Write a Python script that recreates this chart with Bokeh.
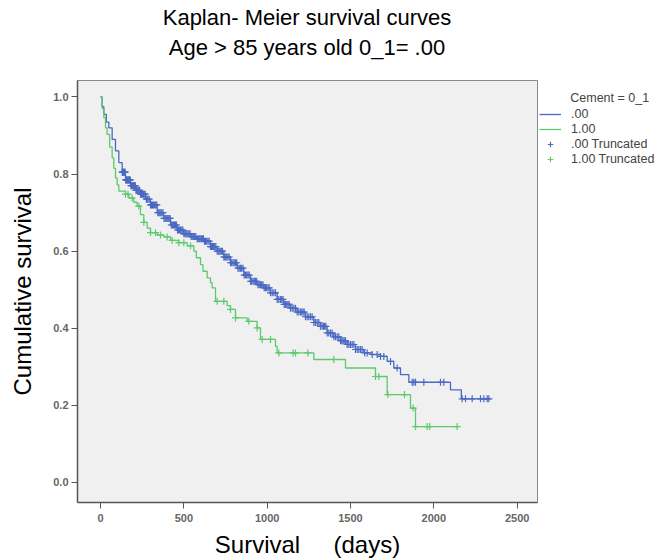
import numpy as np
from bokeh.plotting import figure
from bokeh.layouts import column, row
from bokeh.models import Range1d, Legend, LegendItem, PrintfTickFormatter, Div
from bokeh.embed import file_html
from bokeh.resources import INLINE

# ---------------- data ----------------
title_line1 = "Kaplan- Meier survival curves"
title_line2 = "Age &gt; 85 years old 0_1= .00"
x_axis_label = "Survival\u00a0\u00a0\u00a0\u00a0\u00a0(days)"
y_axis_label = "Cumulative survival"
legend_title = "Cement = 0_1"
group_labels = [".00", "1.00"]
censor_labels = [".00 Truncated", "1.00 Truncated"]

x_ticks = [0, 500, 1000, 1500, 2000, 2500]
y_ticks = [0.0, 0.2, 0.4, 0.6, 0.8, 1.0]

# group .00 (blue): event times (days) and survival after each step
blue_times = [0, 10, 20, 35, 50, 70, 90, 110, 130, 150, 180, 210, 240, 270, 300,
              340, 380, 420, 460, 500, 540, 580, 620, 660, 700, 740, 780, 820,
              860, 900, 940, 980, 1020, 1060, 1100, 1140, 1180, 1230, 1280, 1320,
              1360, 1400, 1440, 1480, 1530, 1580, 1630, 1680, 1720, 1760, 1800,
              1850, 2100, 2165, 2330]
blue_surv = [1.0, 0.975, 0.955, 0.935, 0.92, 0.89, 0.86, 0.83, 0.805, 0.785, 0.77,
             0.758, 0.748, 0.735, 0.72, 0.70, 0.685, 0.668, 0.655, 0.645, 0.638,
             0.632, 0.626, 0.612, 0.60, 0.585, 0.57, 0.556, 0.538, 0.522, 0.513,
             0.505, 0.492, 0.475, 0.462, 0.452, 0.442, 0.43, 0.415, 0.405, 0.388,
             0.378, 0.368, 0.358, 0.345, 0.336, 0.332, 0.327, 0.314, 0.297, 0.28,
             0.26, 0.24, 0.217, 0.217]

# group 1.00 (green)
green_times = [0, 10, 20, 30, 40, 55, 70, 80, 90, 100, 110, 150, 170, 200, 220,
               240, 260, 280, 300, 340, 380, 420, 470, 520, 560, 575, 600, 615,
               640, 660, 670, 690, 760, 780, 810, 880, 940, 960, 1050, 1060, 1280,
               1470, 1650, 1720, 1860, 1890, 2140]
green_surv = [1.0, 0.97, 0.946, 0.92, 0.903, 0.87, 0.842, 0.815, 0.79, 0.772, 0.756,
              0.748, 0.738, 0.727, 0.717, 0.695, 0.675, 0.66, 0.648, 0.642, 0.637,
              0.628, 0.622, 0.614, 0.60, 0.583, 0.565, 0.548, 0.531, 0.518, 0.505,
              0.47, 0.459, 0.449, 0.427, 0.418, 0.401, 0.371, 0.353, 0.336, 0.319,
              0.297, 0.275, 0.228, 0.193, 0.145, 0.145]

# censoring times ("Truncated")
blue_censor = [130, 133, 136, 139, 142, 145, 148, 151, 155, 158, 161, 165, 168, 171,
               175, 179, 183, 186, 190, 194, 198, 201, 205, 209, 213, 216, 220, 225,
               230, 235, 240, 246, 252, 257, 262, 268, 275, 280, 285, 292, 300, 306,
               312, 318, 325, 331, 338, 344, 350, 356, 362, 368, 375, 381, 388, 394,
               400, 406, 412, 418, 425, 431, 438, 444, 450, 456, 462, 468, 475, 481,
               488, 494, 500, 506, 512, 518, 525, 531, 538, 544, 550, 557, 565, 572,
               580, 586, 592, 598, 605, 611, 618, 624, 630, 637, 645, 652, 660, 666,
               672, 678, 685, 692, 700, 706, 712, 718, 725, 732, 740, 746, 752, 758,
               765, 772, 780, 787, 795, 802, 810, 817, 825, 832, 840, 847, 855, 862,
               870, 877, 885, 892, 900, 907, 915, 922, 930, 937, 945, 952, 960, 967,
               975, 982, 990, 997, 1005, 1012, 1020, 1030, 1040, 1050, 1060, 1070,
               1080, 1088, 1095, 1102, 1110, 1118, 1125, 1132, 1140, 1150, 1160, 1170,
               1180, 1190, 1200, 1208, 1215, 1222, 1230, 1240, 1250, 1260, 1270, 1280,
               1290, 1300, 1310, 1320, 1330, 1338, 1345, 1352, 1360, 1370, 1380, 1390,
               1400, 1410, 1420, 1430, 1440, 1448, 1455, 1462, 1470, 1480, 1490, 1500,
               1510, 1520, 1530, 1540, 1550, 1560, 1570, 1585, 1600, 1630, 1660, 1680,
               1700, 1740, 1780, 1870, 1880, 1890, 1940, 2040, 2060, 2170, 2190, 2230,
               2280, 2300, 2320, 2330]
green_censor = [150, 165, 190, 230, 260, 300, 330, 360, 400, 430, 470, 500, 540, 700,
                740, 780, 810, 890, 940, 970, 1020, 1070, 1156, 1170, 1244, 1400, 1650,
                1670, 1724, 1824, 1876, 1890, 1960, 1975, 2140]

# ---------------- styling ----------------
BLUE = "#4a69c4"
GREEN = "#5cc96c"
FONT = "Liberation Sans"


def step_lookup(times, surv, t):
    times = np.asarray(times, dtype=float)
    surv = np.asarray(surv, dtype=float)
    idx = np.searchsorted(times, np.asarray(t, dtype=float), side="right") - 1
    return surv[np.clip(idx, 0, len(surv) - 1)]


blue_censor_y = step_lookup(blue_times, blue_surv, blue_censor)
green_censor_y = step_lookup(green_times, green_surv, green_censor)

# ---- title block ----
title_div = Div(text=title_line1 + "<br>" + title_line2, width=614, height=60,
                margin=(3, 0, 0, 0),
                styles={"text-align": "center", "font-family": FONT,
                        "font-size": "22px", "line-height": "30px", "color": "black",
                        "width": "614px"})

# ---- main plot ----
p = figure(title=None, frame_width=460, frame_height=422,
           x_range=Range1d(-138, 2622), y_range=Range1d(-0.0519, 1.0428),
           output_backend="svg", toolbar_location=None,
           min_border_left=77, min_border_right=2,
           min_border_top=17, min_border_bottom=56)

p.background_fill_color = "#f0f0f0"
p.border_fill_color = "white"
p.outline_line_color = "#8a8a8a"
p.grid.visible = False

p.step(blue_times, blue_surv, mode="after", line_color=BLUE, line_width=1.3)
p.step(green_times, green_surv, mode="after", line_color=GREEN, line_width=1.3)
p.scatter(blue_censor, blue_censor_y, marker="cross", size=7,
          line_color=BLUE, line_width=1.2)
p.scatter(green_censor, green_censor_y, marker="cross", size=7,
          line_color=GREEN, line_width=1.2)

for ax in (p.xaxis[0], p.yaxis[0]):
    ax.axis_line_color = "#555555"
    ax.axis_line_width = 1.5
    ax.major_tick_line_color = "#555555"
    ax.major_tick_out = 6
    ax.major_tick_in = 0
    ax.minor_tick_line_color = None
    ax.major_label_text_font = FONT
    ax.major_label_text_font_size = "11px"
    ax.major_label_text_font_style = "bold"
    ax.major_label_text_color = "#666666"
    ax.axis_label_text_font = FONT
    ax.axis_label_text_font_size = "24px"
    ax.axis_label_text_font_style = "normal"
    ax.axis_label_text_color = "black"

p.xaxis.ticker = x_ticks
p.yaxis.ticker = y_ticks
p.yaxis.formatter = PrintfTickFormatter(format="%.1f")
p.xaxis.axis_label = x_axis_label
p.yaxis.axis_label = y_axis_label
p.xaxis.major_label_standoff = 5
p.xaxis.axis_label_standoff = 6
p.yaxis.major_label_standoff = 3
p.yaxis.axis_label_standoff = 14

# ---- legend panel (to the right of the plot) ----
# same series drawn into a range far outside their data, so only the legend keys show
pl = figure(title=None, frame_width=120, frame_height=422,
            x_range=Range1d(5000, 5001), y_range=Range1d(5, 6),
            output_backend="svg", toolbar_location=None,
            min_border_left=0, min_border_right=0,
            min_border_top=17, min_border_bottom=56)
pl.axis.visible = False
pl.grid.visible = False
pl.outline_line_color = None
pl.background_fill_color = "white"
lb = pl.step(blue_times, blue_surv, mode="after", line_color=BLUE, line_width=1.3)
lg = pl.step(green_times, green_surv, mode="after", line_color=GREEN, line_width=1.3)
lbc = pl.scatter(blue_censor, blue_censor_y, marker="cross", size=8,
                 line_color=BLUE, line_width=1.2)
lgc = pl.scatter(green_censor, green_censor_y, marker="cross", size=8,
                 line_color=GREEN, line_width=1.2)

legend = Legend(items=[
    LegendItem(label=group_labels[0], renderers=[lb]),
    LegendItem(label=group_labels[1], renderers=[lg]),
    LegendItem(label=censor_labels[0], renderers=[lbc]),
    LegendItem(label=censor_labels[1], renderers=[lgc]),
], location=(0, 336))
legend.title = "\u00a0" * 9 + legend_title
legend.title_text_font = FONT
legend.title_text_font_size = "12.5px"
legend.title_text_font_style = "normal"
legend.title_standoff = 2
legend.label_text_font = FONT
legend.label_text_font_size = "12.5px"
legend.label_height = 14
legend.glyph_height = 14
legend.glyph_width = 22
legend.label_standoff = 10
legend.spacing = 1
legend.padding = 2
legend.margin = 0
legend.border_line_color = None
legend.background_fill_alpha = 0
pl.add_layout(legend)

layout = column(title_div, row(p, pl))
open("out.html", "w").write(file_html(layout, INLINE))
